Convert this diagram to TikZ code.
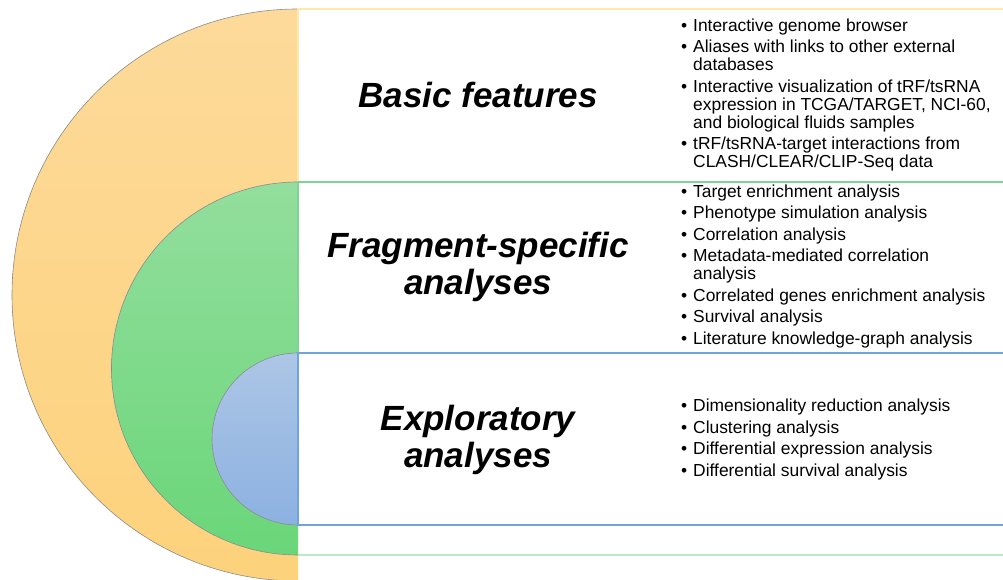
\documentclass[tikz,border=0pt]{standalone}
\usepackage{fontspec}
\setmainfont{Liberation Sans}
\definecolor{orTop}{HTML}{FDDA9A}
\definecolor{orBot}{HTML}{FDD27C}
\definecolor{grTop}{HTML}{93DE9D}
\definecolor{grBot}{HTML}{6AD679}
\definecolor{blTop}{HTML}{ADC6E6}
\definecolor{blBot}{HTML}{8CB1E1}
\definecolor{orLine}{HTML}{FFE7A8}
\definecolor{grLine}{HTML}{80D395}
\definecolor{blLine}{HTML}{70A4E0}
\definecolor{lgLine}{HTML}{B8EAC3}
\tikzset{
  rim/.style={draw=black!45, line width=0.6pt},
  band/.style={line width=1.1pt},
  title/.style={font=\fontsize{35}{37}\selectfont\bfseries\itshape, align=center},
  items/.style={font=\fontsize{17.4}{18}\selectfont, align=left, anchor=west, inner sep=0pt}
}
\newcommand{\itm}{\makebox[12pt][l]{\textbullet}}
\newcommand{\ind}{\hspace*{12pt}}
\begin{document}
\begin{tikzpicture}[x=1pt,y=1pt]
  \useasboundingbox (0,0) rectangle (1003,580);
  \shade[top color=orTop, bottom color=orBot]
    (298,571) arc[start angle=90, end angle=270, radius=286] -- cycle;
  \draw[rim] (298,571) arc[start angle=90, end angle=270, radius=286];
  \shade[top color=grTop, bottom color=grBot]
    (298,398) arc[start angle=90, end angle=270, radius=186.5] -- cycle;
  \draw[rim] (298,398) arc[start angle=90, end angle=270, radius=186.5];
  \shade[top color=blTop, bottom color=blBot]
    (298,227) arc[start angle=90, end angle=270, radius=86] -- cycle;
  \draw[rim] (298,227) arc[start angle=90, end angle=270, radius=86];
  \begin{scope}[band]
    \draw[orLine] (298,398) -- (298,571) -- (1003,571);
    \draw[grLine] (298,227) -- (298,398) -- (1003,398);
    \draw[blLine] (1003,227) -- (298,227) -- (298,55) -- (1003,55);
    \draw[lgLine] (298,25) -- (1003,25);
  \end{scope}
  \node[title] (basic) at (478,485) {Basic features};
  \node[title] (frag) at (478,313.5) {Fragment-specific\\analyses};
  \node[title] (explo) at (478,140.5) {Exploratory\\analyses};
  \node[items] (basiclist) at (681,485) {%
    \itm Interactive genome browser\\[3.5pt]
    \itm Aliases with links to other external\\
    \ind databases\\[3.5pt]
    \itm Interactive visualization of tRF/tsRNA\\
    \ind expression in TCGA/TARGET, NCI-60,\\
    \ind and biological fluids samples\\[3.5pt]
    \itm tRF/tsRNA-target interactions from\\
    \ind CLASH/CLEAR/CLIP-Seq data};
  \node[items] (fraglist) at (681,313.5) {%
    \itm Target enrichment analysis\\[3.5pt]
    \itm Phenotype simulation analysis\\[3.5pt]
    \itm Correlation analysis\\[3.5pt]
    \itm Metadata-mediated correlation\\
    \ind analysis\\[3.5pt]
    \itm Correlated genes enrichment analysis\\[3.5pt]
    \itm Survival analysis\\[3.5pt]
    \itm Literature knowledge-graph analysis};
  \node[items] (explolist) at (681,140.5) {%
    \itm Dimensionality reduction analysis\\[3.5pt]
    \itm Clustering analysis\\[3.5pt]
    \itm Differential expression analysis\\[3.5pt]
    \itm Differential survival analysis};
\end{tikzpicture}
\end{document}
